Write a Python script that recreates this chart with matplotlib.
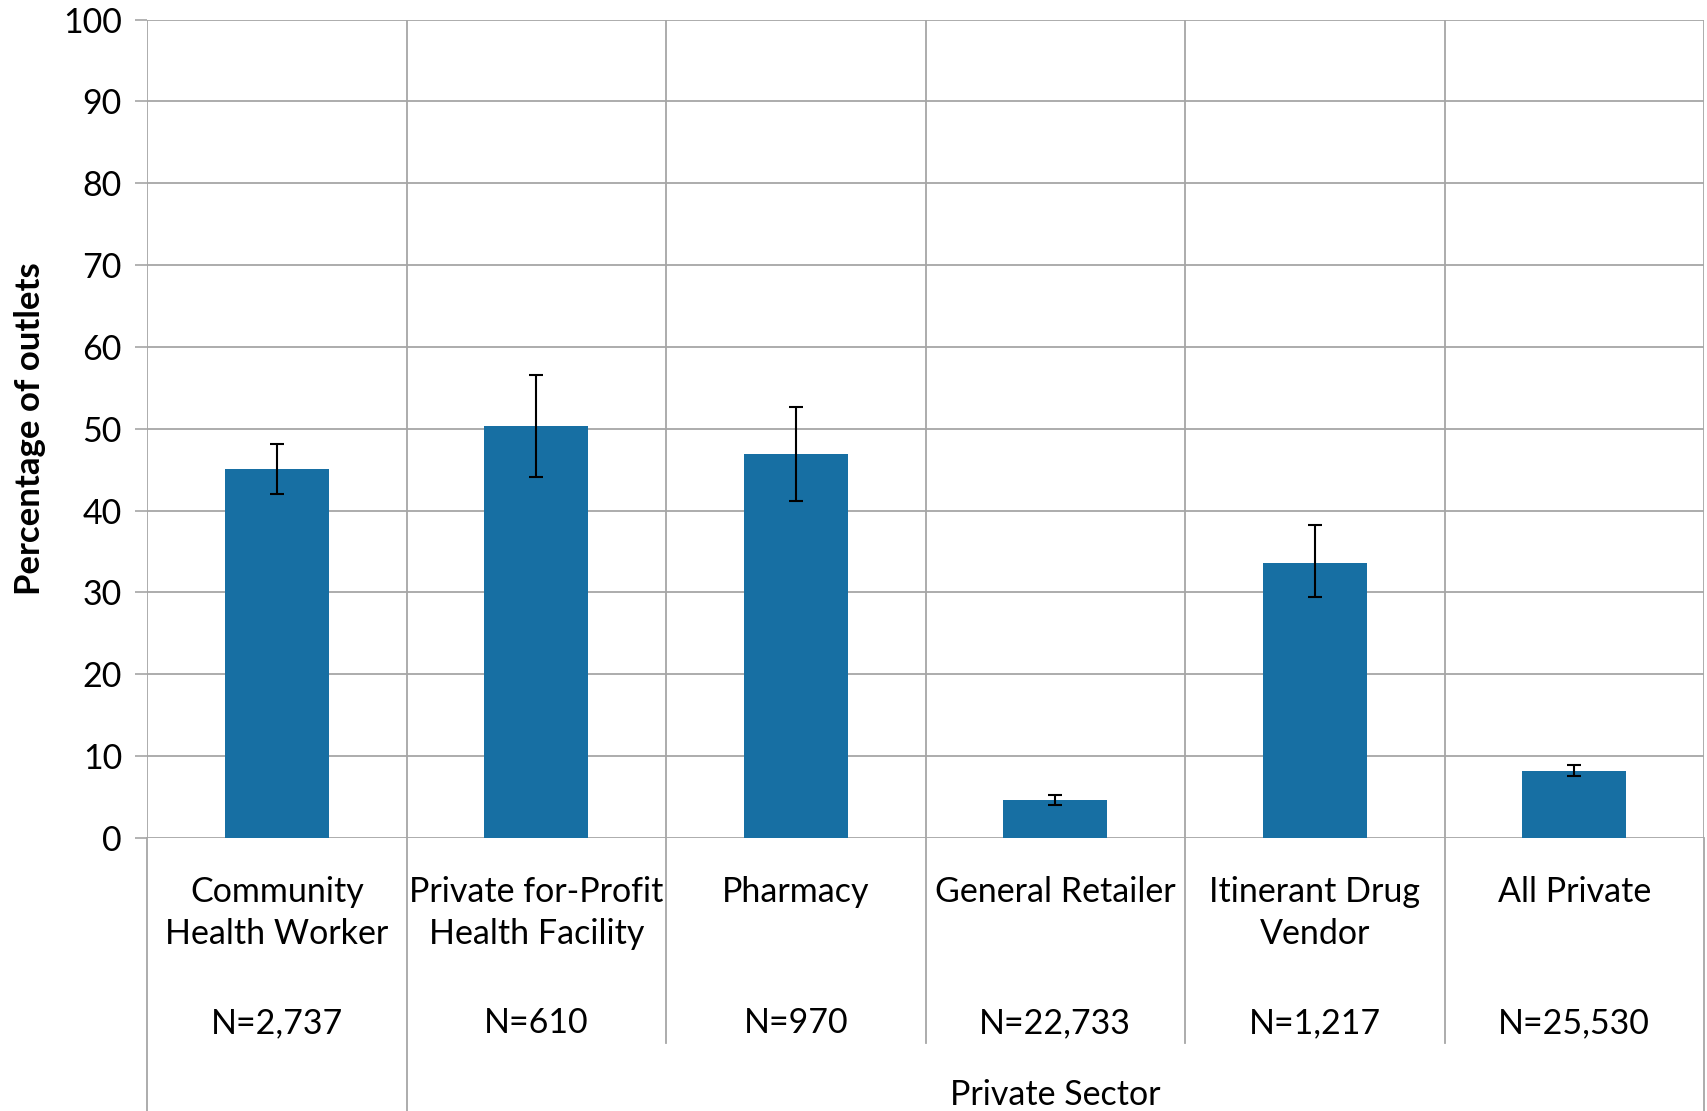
import matplotlib.pyplot as plt
import numpy as np

# outlet types and values
categories = ["Community\nHealth Worker", "Private for-Profit\nHealth Facility", "Pharmacy",
              "General Retailer", "Itinerant Drug\nVendor", "All Private"]
n_labels = ["N=2,737", "N=610", "N=970", "N=22,733", "N=1,217", "N=25,530"]
percent = [45.1, 50.4, 46.9, 4.6, 33.6, 8.2]
err_low = [42.0, 44.1, 41.2, 4.0, 29.4, 7.6]
err_high = [48.1, 56.6, 52.7, 5.2, 38.2, 8.9]
group_label = "Private Sector"

plt.rcParams['font.family'] = ['Lato', 'DejaVu Sans']
grid_col = "#A6A6A6"
bar_col = "#176FA3"
fs = 24.5

fig = plt.figure(figsize=(17.07, 11.11), dpi=100)
ax = fig.add_axes([147 / 1707, 1 - 838 / 1111, (1704 - 147) / 1707, (838 - 19.6) / 1111])

x = np.arange(len(categories)) + 0.5
vals = np.array(percent)
yerr = np.array([vals - np.array(err_low), np.array(err_high) - vals])

ax.bar(x, vals, width=0.4, color=bar_col, zorder=3)
ax.errorbar(x, vals, yerr=yerr, fmt='none', ecolor='black', elinewidth=1.5,
            capsize=5, capthick=1.5, zorder=4)

ax.set_xlim(0, len(categories))
ax.set_ylim(0, 100)
ax.set_yticks(np.arange(0, 101, 10))
ax.set_xticks([])
for s in ax.spines.values():
    s.set_visible(False)
ax.tick_params(axis='y', length=9, width=1.2, color=grid_col, labelsize=fs, pad=9)

# grid lines
for yv in np.arange(0, 101, 10):
    ax.axhline(yv, color=grid_col, lw=1.3, zorder=1)
for xv in range(len(categories) + 1):
    ax.axvline(xv, color=grid_col, lw=1.3, zorder=1)

# category axis lines below the plot
tr = ax.get_xaxis_transform()
for xv in range(len(categories) + 1):
    bottom = -0.34 if xv in (0, 1, len(categories)) else -0.2505
    ax.plot([xv, xv], [0, bottom], color=grid_col, lw=1.3, transform=tr, clip_on=False)

# category labels
for xi, lab, nl in zip(x, categories, n_labels):
    lines = lab.split("\n")
    ax.text(xi, -0.0788, lines[0], transform=tr, ha='center', va='baseline', fontsize=fs)
    if len(lines) > 1:
        ax.text(xi, -0.1297, lines[1], transform=tr, ha='center', va='baseline', fontsize=fs)
    ax.text(xi, -0.2383, nl, transform=tr, ha='center', va='baseline', fontsize=fs)

ax.text((1 + len(categories)) / 2, -0.326, group_label, transform=tr, ha='center',
        va='baseline', fontsize=fs)

ax.set_ylabel("Percentage of outlets", fontsize=25, fontweight='bold', labelpad=12)

fig.savefig("out.png", dpi=100)
